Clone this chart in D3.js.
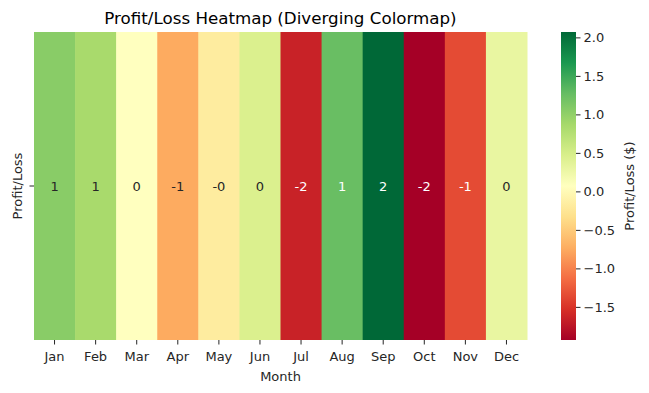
<!DOCTYPE html>
<html>
<head>
<meta charset="utf-8">
<script src="https://cdn.jsdelivr.net/npm/d3@7"></script>
<style>
  body { margin: 0; background: #fff; }
  text { font-family: "DejaVu Sans", sans-serif; }
</style>
</head>
<body>
<script>
// data
const months = ["Jan","Feb","Mar","Apr","May","Jun","Jul","Aug","Sep","Oct","Nov","Dec"];
const profit = [1.05, 0.85, 0.07, -0.75, -0.18, 0.45, -1.65, 1.25, 2.07, -1.93, -1.35, 0.3];
const cbarTicks = [2.0, 1.5, 1.0, 0.5, 0.0, -0.5, -1.0, -1.5];
const rdylgn = ["#a50026","#d73027","#f46d43","#fdae61","#fee08b","#ffffbf","#d9ef8b","#a6d96a","#66bd63","#1a9850","#006837"];

const W = 649, H = 393;
const plotL = 34, plotR = 527, plotT = 32, plotB = 340;

const svg = d3.select("body").append("svg")
  .attr("width", W).attr("height", H);

const vmin = d3.min(profit), vmax = d3.max(profit);
const norm = d3.scaleLinear().domain([vmin, vmax]).range([0, 1]);
const cmap = d3.scaleLinear()
  .domain(d3.range(rdylgn.length).map(i => i / (rdylgn.length - 1)))
  .range(rdylgn)
  .interpolate(d3.interpolateRgb);
const color = v => cmap(norm(v));

const x = d3.scaleBand().domain(months).range([plotL, plotR]);
const yMid = (plotT + plotB) / 2;

// cells
svg.selectAll("rect.cell")
  .data(profit)
  .enter().append("rect")
  .attr("class", "cell")
  .attr("x", (d, i) => x(months[i]))
  .attr("y", plotT)
  .attr("width", x.bandwidth() + 0.5)
  .attr("height", plotB - plotT)
  .attr("fill", d => color(d));

// annotations, dark or white text depending on cell luminance
function lum(c) {
  const rgb = d3.rgb(c);
  const f = v => { v /= 255; return v <= 0.03928 ? v / 12.92 : Math.pow((v + 0.055) / 1.055, 2.4); };
  return 0.2126 * f(rgb.r) + 0.7152 * f(rgb.g) + 0.0722 * f(rgb.b);
}
svg.selectAll("text.annot")
  .data(profit)
  .enter().append("text")
  .attr("class", "annot")
  .attr("x", (d, i) => x(months[i]) + x.bandwidth() / 2)
  .attr("y", yMid)
  .attr("dy", "0.35em")
  .attr("text-anchor", "middle")
  .style("font-size", "13px")
  .attr("fill", d => lum(color(d)) > 0.408 ? "#262626" : "#ffffff")
  .text(d => {
    const r = Math.round(d);
    return (r === 0 && d < 0) ? "-0" : String(r);
  });

// x axis
const xAxis = svg.append("g")
  .attr("transform", `translate(0,${plotB})`)
  .call(d3.axisBottom(x).tickSize(4.5).tickPadding(7));
xAxis.select(".domain").remove();
xAxis.selectAll("text").style("font-size", "13px").attr("fill", "#262626")
  .style("font-family", "DejaVu Sans, sans-serif");
xAxis.selectAll("line").attr("stroke", "#262626").attr("stroke-width", 1);

// y tick
svg.append("line")
  .attr("x1", plotL - 4.5).attr("x2", plotL)
  .attr("y1", yMid).attr("y2", yMid)
  .attr("stroke", "#262626");

// labels
svg.append("text")
  .attr("x", (plotL + plotR) / 2).attr("y", 381)
  .attr("text-anchor", "middle")
  .style("font-size", "13px").attr("fill", "#262626")
  .text("Month");

svg.append("text")
  .attr("transform", `translate(22,${yMid}) rotate(-90)`)
  .attr("text-anchor", "middle")
  .style("font-size", "13px").attr("fill", "#262626")
  .text("Profit/Loss");

svg.append("text")
  .attr("x", (plotL + plotR) / 2).attr("y", 24)
  .attr("text-anchor", "middle")
  .style("font-size", "16.7px").attr("fill", "#000")
  .text("Profit/Loss Heatmap (Diverging Colormap)");

// colorbar
const cbX = 561, cbW = 15;
const cy = d3.scaleLinear().domain([vmin, vmax]).range([plotB, plotT]);
const defs = svg.append("defs");
const grad = defs.append("linearGradient")
  .attr("id", "cbgrad")
  .attr("x1", 0).attr("y1", 1).attr("x2", 0).attr("y2", 0);
rdylgn.forEach((c, i) => {
  grad.append("stop")
    .attr("offset", i / (rdylgn.length - 1))
    .attr("stop-color", c);
});
svg.append("rect")
  .attr("x", cbX).attr("y", plotT)
  .attr("width", cbW).attr("height", plotB - plotT)
  .attr("fill", "url(#cbgrad)");

const cAxis = svg.append("g")
  .attr("transform", `translate(${cbX + cbW},0)`)
  .call(d3.axisRight(cy).tickValues(cbarTicks).tickSize(4.5).tickPadding(3)
    .tickFormat(d => d3.format(".1f")(d).replace("-", "\u2212")));
cAxis.select(".domain").remove();
cAxis.selectAll("text").style("font-size", "13px").attr("fill", "#262626")
  .style("font-family", "DejaVu Sans, sans-serif");
cAxis.selectAll("line").attr("stroke", "#262626");

svg.append("text")
  .attr("transform", `translate(634,${yMid}) rotate(-90)`)
  .attr("text-anchor", "middle")
  .style("font-size", "13px").attr("fill", "#262626")
  .text("Profit/Loss ($)");
</script>
</body>
</html>
